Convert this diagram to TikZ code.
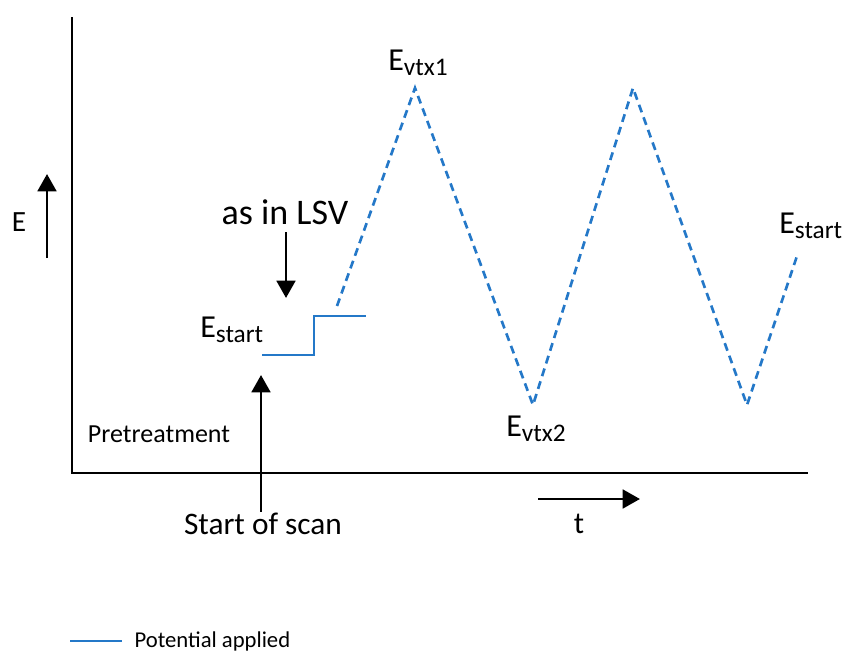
\documentclass[tikz,border=0pt]{standalone}
\usepackage{fontspec}
\setmainfont{Carlito}
\usepackage{xcolor}
\usetikzlibrary{arrows.meta}
\definecolor{potblue}{RGB}{36,120,200}
\newcommand{\Elab}[1]{{\fontsize{24}{27}\selectfont E}\raisebox{-4pt}{\fontsize{19}{21}\selectfont #1}}

\begin{document}
\begin{tikzpicture}[x=0.75pt,y=-0.75pt,
 axis/.style={line width=2.2pt},
 arr/.style={line width=2.2pt,-{Triangle[length=13pt,width=14pt]}},
 pot/.style={potblue,line width=1.6pt},
 potdash/.style={potblue,line width=2pt,dash pattern=on 6pt off 4pt},
 lab/.style={inner sep=0pt,anchor=base west},
 txt/.style={inner sep=1pt,font=\fontsize{23.5}{26}\selectfont}
]
\useasboundingbox (0,0) rectangle (847,653);
% axes
\coordinate (ytop) at (72,17); \coordinate (o) at (72,473); \coordinate (xend) at (808,473);
\draw[axis] (ytop)--(o)--(xend);
\node[txt,font=\fontsize{22}{24}\selectfont] (elab) at (19,222) {E};
\coordinate (ea0) at (47,258); \coordinate (ea1) at (47,174);
\draw[arr] (ea0)--(ea1);
\coordinate (ta0) at (538,499); \coordinate (ta1) at (640,499);
\draw[arr] (ta0)--(ta1);
\node[txt,font=\fontsize{23}{25}\selectfont] (tlab) at (579,524) {t};
% potential waveform
\coordinate (s0) at (262,355); \coordinate (s1) at (314,355); \coordinate (s2) at (314,316); \coordinate (s3) at (366,316);
\draw[pot] (s0)--(s1)--(s2)--(s3);
\coordinate (d0) at (337,306); \coordinate (v1) at (415,88); \coordinate (v2) at (533,405);
\coordinate (v3) at (633,88); \coordinate (v4) at (747,405); \coordinate (d5) at (797,256);
\draw[potdash] (d0)--(v1)--(v2)--(v3)--(v4)--(d5);
% labels
\node[lab] (es0) at (200,337) {\Elab{start}};
\node[lab] (ev1) at (388,70) {\Elab{vtx1}};
\node[lab] (ev2) at (506,436) {\Elab{vtx2}};
\node[lab] (es1) at (779,233) {\Elab{start}};
\node[txt,font=\fontsize{27}{30}\selectfont] (lsv) at (285,212) {as in LSV};
\coordinate (lsvtip) at (286,298);
\draw[arr] (lsv.south)++(1,6) coordinate (lsv0) (lsv0)--(lsvtip);
\node[txt,font=\fontsize{19.5}{22}\selectfont] (pre) at (159,434) {Pretreatment};
\node[txt] (scan) at (263,524) {Start of scan};
\coordinate (scantip) at (261,375);
\draw[arr] (scan.north-|scantip)--(scantip);
% legend
\coordinate (lg0) at (70,641); \coordinate (lg1) at (122,641);
\draw[pot] (lg0)--(lg1);
\node[txt,anchor=west,font=\fontsize{17}{19}\selectfont] (lgtxt) at (133,641) {Potential applied};
\end{tikzpicture}
\end{document}
